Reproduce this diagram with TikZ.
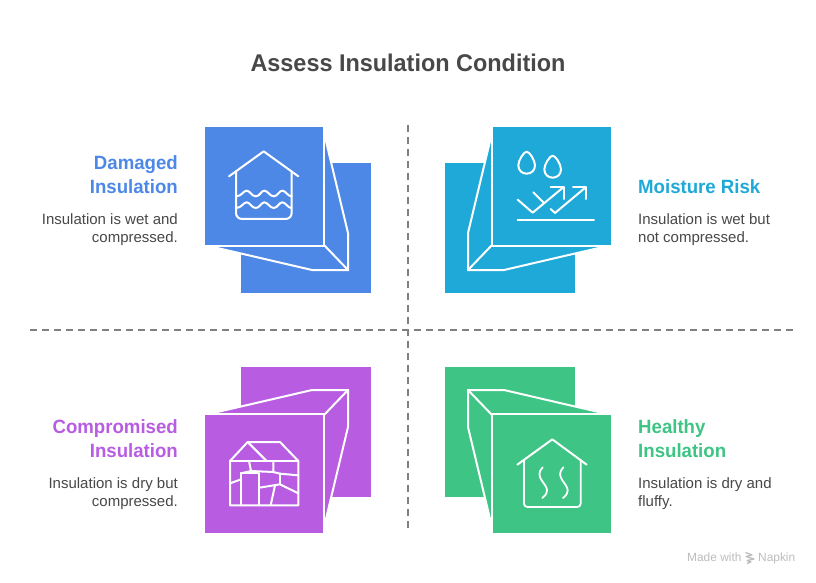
\documentclass[tikz,border=0pt]{standalone}
\usepackage{fontspec}
\setmainfont{Liberation Sans}
\newfontfamily\narrowfont{Liberation Sans}[FakeStretch=0.97]
\definecolor{cblue}{HTML}{4E88E7}
\definecolor{ccyan}{HTML}{1FA9D8}
\definecolor{cpurple}{HTML}{B85CE2}
\definecolor{cgreen}{HTML}{3EC484}
\definecolor{ink}{HTML}{484848}
\definecolor{rulegray}{HTML}{808080}
\definecolor{markgray}{HTML}{BDBDBD}
\tikzset{
  titletext/.style={font=\narrowfont\fontsize{24.15}{28}\selectfont\bfseries,text=ink,inner sep=0pt},
  headtext/.style={font=\narrowfont\fontsize{19.2}{24}\selectfont\bfseries,inner sep=0pt},
  bodytext/.style={font=\fontsize{15}{18}\selectfont,text=ink,inner sep=0pt},
  marktext/.style={font=\fontsize{11.9}{14}\selectfont,text=markgray,inner sep=0pt,anchor=base west},
  icon/.style={draw=white,line width=2pt,line cap=round,line join=round},
  foldline/.style={draw=white,line width=2pt,line join=miter},
  divider/.style={draw=rulegray,line width=2pt,dash pattern=on 7pt off 5pt},
  zoomed/.style={x=0.3333pt,y=-0.3333pt},
}
% #1 colour, #2 xscale, #3 yscale, #4 shift x, #5 shift y
\newcommand{\foldbox}[5]{%
  \begin{scope}[shift={(#4,#5)},xscale=#2,yscale=#3]
    \fill[#1] (36,36) rectangle (166,166);
    \fill[#1] (120,10) -- (143,106) -- (143,143) -- (107,143) -- (8,120) -- cycle;
    \draw[foldline] (120,10) -- (143,106) -- (143,143) -- (107,143) -- (8,120);
    \draw[foldline] (119,118) -- (143,143);
    \fill[white] (0,0) rectangle (120,120);
    \fill[#1] (0,0) rectangle (118,118);
  \end{scope}}
\begin{document}
\begin{tikzpicture}[x=1pt,y=-1pt]
\useasboundingbox (0,0) rectangle (816,582);
\fill[white] (0,0) rectangle (816,582);
\node[titletext,anchor=base] (title) at (408,71) {Assess Insulation Condition};

\coordinate (vtop) at (408,125);
\coordinate (vbot) at (408,528);
\coordinate (hleft) at (30,330);
\coordinate (hright) at (794,330);
\draw[divider] (vtop) -- (vbot);
\draw[divider] (hleft) -- (hright);

\foldbox{cblue}{1}{1}{205}{127}
\foldbox{ccyan}{-1}{1}{611}{127}
\foldbox{cpurple}{1}{-1}{205}{533}
\foldbox{cgreen}{-1}{-1}{611}{533}

% water house
\begin{scope}[shift={(225,148)},zoomed]
  \draw[icon] (12,85) -- (116,10) -- (220,85);
  \draw[icon] (33,70) -- (33,195) arc[start angle=180,end angle=90,radius=18] -- (182,213) arc[start angle=90,end angle=0,radius=18] -- (200,70);
  \foreach \dy in {0,35}{
    \begin{scope}[yshift=-\dy*0.3333pt]
    \draw[icon] (33,145) .. controls (50,145) and (55,128) .. (65,128)
      .. controls (75,128) and (80,145) .. (92,145) .. controls (105,145) and (108,128) .. (118,128)
      .. controls (128,128) and (135,145) .. (146,145) .. controls (158,145) and (162,128) .. (172,128)
      .. controls (182,128) and (188,145) .. (200,145);
    \end{scope}
  }
\end{scope}

% drops and arrows
\begin{scope}[shift={(510,148)},zoomed]
  \draw[icon] (50,11) .. controls (58,11) and (75,36) .. (75,52) .. controls (75,68) and (63,77) .. (50,77)
     .. controls (37,77) and (25,68) .. (25,52) .. controls (25,36) and (42,11) .. (50,11) -- cycle;
  \draw[icon] (128,23) .. controls (136,23) and (153,48) .. (153,64) .. controls (153,80) and (141,89) .. (128,89)
     .. controls (115,89) and (103,80) .. (103,64) .. controls (103,48) and (120,23) .. (128,23) -- cycle;
  \draw[icon] (23,155) -- (68,194) -- (160,118);
  \draw[icon] (122,118) -- (161,118) -- (161,153);
  \draw[icon] (70,133) -- (100,163);
  \draw[icon] (122,183) -- (135,195) -- (227,118);
  \draw[icon] (189,118) -- (228,118) -- (228,153);
  \draw[icon] (23,216) -- (252,216);
\end{scope}

% cracked house
\begin{scope}[shift={(225,436)},zoomed]
  \draw[icon] (15,75) -- (68,18) -- (165,18) -- (220,75) -- (220,208) -- (15,208) -- cycle;
  \draw[icon] (15,75) -- (220,75);
  \draw[icon] (68,18) -- (125,75);
  \draw[icon] (72,75) -- (78,105) -- (145,108);
  \draw[icon] (145,75) -- (145,108) -- (165,113) -- (220,118);
  \draw[icon] (48,208) -- (48,112) -- (103,112) -- (103,208);
  \draw[icon] (48,112) -- (78,105);
  \draw[icon] (15,142) -- (48,130);
  \draw[icon] (165,113) -- (165,145);
  \draw[icon] (103,155) -- (165,145) -- (220,172);
  \draw[icon] (150,148) -- (137,208);
\end{scope}

% warm house
\begin{scope}[shift={(510,432)},zoomed]
  \draw[icon] (22,98) -- (127,22) -- (230,98);
  \draw[icon,line width=1.8pt] (42,84) -- (42,215) arc[start angle=180,end angle=90,radius=10] -- (202,225) arc[start angle=90,end angle=0,radius=10] -- (212,84);
  \draw[icon,line width=1.8pt] (98,106) .. controls (70,135) and (112,155) .. (111,175) .. controls (110,187) and (104,193) .. (97,198);
  \draw[icon,line width=1.8pt] (160,106) .. controls (132,135) and (174,155) .. (173,175) .. controls (172,187) and (166,193) .. (159,198);
\end{scope}

\node[headtext,text=cblue,align=right,anchor=north east] (h1) at (178,155) {Damaged\\Insulation};
\node[bodytext,align=right,anchor=north east] (b1) at (178,213) {Insulation is wet and\\compressed.};
\node[headtext,text=ccyan,align=left,anchor=north west] (h2) at (638,179) {Moisture Risk};
\node[bodytext,align=left,anchor=north west] (b2) at (638,213) {Insulation is wet but\\not compressed.};
\node[headtext,text=cpurple,align=right,anchor=north east] (h3) at (178,419) {Compromised\\Insulation};
\node[bodytext,align=right,anchor=north east] (b3) at (178,477) {Insulation is dry but\\compressed.};
\node[headtext,text=cgreen,align=left,anchor=north west] (h4) at (638,419) {Healthy\\Insulation};
\node[bodytext,align=left,anchor=north west] (b4) at (638,477) {Insulation is dry and\\fluffy.};

\node[marktext] (made) at (687,561) {Made with};
\node[marktext] (napkin) at (758,561) {Napkin};
\begin{scope}[shift={(745,552)}]
  \draw[markgray,line width=1.3pt,line join=round] (0.5,0.5) -- (7,3) -- (1,4.5) -- (9,7) -- (2,8.5) -- (6,10) -- (2,11.5);
\end{scope}
\end{tikzpicture}
\end{document}
